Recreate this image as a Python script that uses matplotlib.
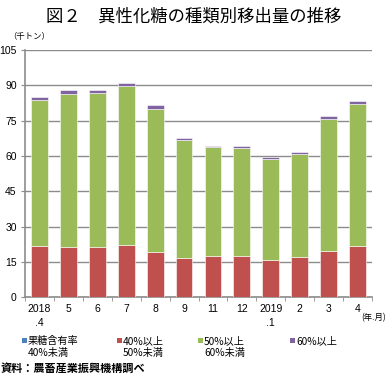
import matplotlib
matplotlib.use("Agg")
import matplotlib.pyplot as plt
import numpy as np
from matplotlib.patches import Rectangle

plt.rcParams['font.family'] = ['Liberation Sans', 'Noto Sans CJK JP', 'DejaVu Sans']

months = ["2018\n.4", "5", "6", "7", "8", "9", "11", "12", "2019\n.1", "2", "3", "4"]
lt40 = [0.3, 0.3, 0.3, 0.3, 0.3, 0.3, 0.3, 0.3, 0.3, 0.3, 0.3, 0.3]
p40_50 = [21.5, 21.1, 21.1, 21.8, 19.1, 16.4, 17.2, 17.2, 15.4, 17.0, 19.4, 21.6]
p50_60 = [62.0, 64.8, 65.5, 67.8, 60.7, 50.1, 46.2, 46.0, 43.0, 43.5, 56.1, 60.3]
p60 = [1.2, 1.7, 1.1, 1.1, 1.4, 1.0, 0.7, 0.6, 1.0, 0.8, 1.0, 1.0]
series_names = ["果糖含有率\n40%未満", "40%以上\n50%未満", "50%以上\n60%未満", "60%以上"]
colors = ["#4F81BD", "#C0504D", "#9BBB59", "#8064A2"]
yticks = [0, 15, 30, 45, 60, 75, 90, 105]

W, H = 388, 378
fig = plt.figure(figsize=(W / 100, H / 100), dpi=100)
ax = fig.add_axes([25 / W, 1 - 297.3 / H, (372 - 25) / W, (297.3 - 50) / H])

x = np.arange(len(months))
bottom = np.zeros(len(months))
for vals, c in zip([lt40, p40_50, p50_60, p60], colors):
    ax.bar(x, vals, bottom=bottom, width=0.58, color=c, edgecolor='white', linewidth=0.4, zorder=3)
    bottom += np.array(vals)

ax.set_xlim(-0.5, len(months) - 0.5)
ax.set_ylim(0, 105)
ax.set_yticks(yticks)
ax.set_yticklabels([str(v) for v in yticks], fontsize=7.5)
ax.yaxis.grid(True, color='#8c8c8c', linewidth=1.0, zorder=0)
ax.set_xticks(x)
ax.set_xticklabels(months, fontsize=7.5, linespacing=1.5, va='top')
ax.tick_params(axis='x', which='major', length=0, pad=5)
ax.set_xticks(np.arange(-0.5, len(months)), minor=True)
ax.tick_params(axis='x', which='minor', length=3, color='#8c8c8c', direction='out')
ax.tick_params(axis='y', length=3, color='#8c8c8c', pad=3)
for s in ['top', 'right']:
    ax.spines[s].set_visible(False)
for s in ['left', 'bottom']:
    ax.spines[s].set_color('#8c8c8c')
    ax.spines[s].set_linewidth(1.2)

fig.text(194 / W, 1 - 17 / H, "図２　異性化糖の種類別移出量の推移", ha='center', va='center',
         fontsize=12.5, family=['Noto Sans CJK JP'])
fig.text(8 / W, 1 - 37 / H, "（千トン）", ha='left', va='center', fontsize=6, family=['Noto Sans CJK JP'])
fig.text(386 / W, 1 - 318 / H, "(年.月)", ha='right', va='center', fontsize=6, family=['Noto Sans CJK JP'])

leg_x = [22, 117, 198, 290]
for lx, c, name in zip(leg_x, colors, series_names):
    fig.patches.append(Rectangle((lx / W, 1 - 343 / H), 5 / W, 5 / H, transform=fig.transFigure,
                                 facecolor=c, edgecolor='none'))
    fig.text((lx + 6) / W, 1 - 336 / H, name, ha='left', va='top', fontsize=7.3,
             linespacing=1.2, family=['Noto Sans CJK JP'])

fig.text(1 / W, 1 - 368 / H, "資料：農畜産業振興機構調べ", ha='left', va='center', fontsize=8,
         fontweight='bold', family=['Noto Sans CJK JP'])

fig.savefig("out.png", dpi=100)
